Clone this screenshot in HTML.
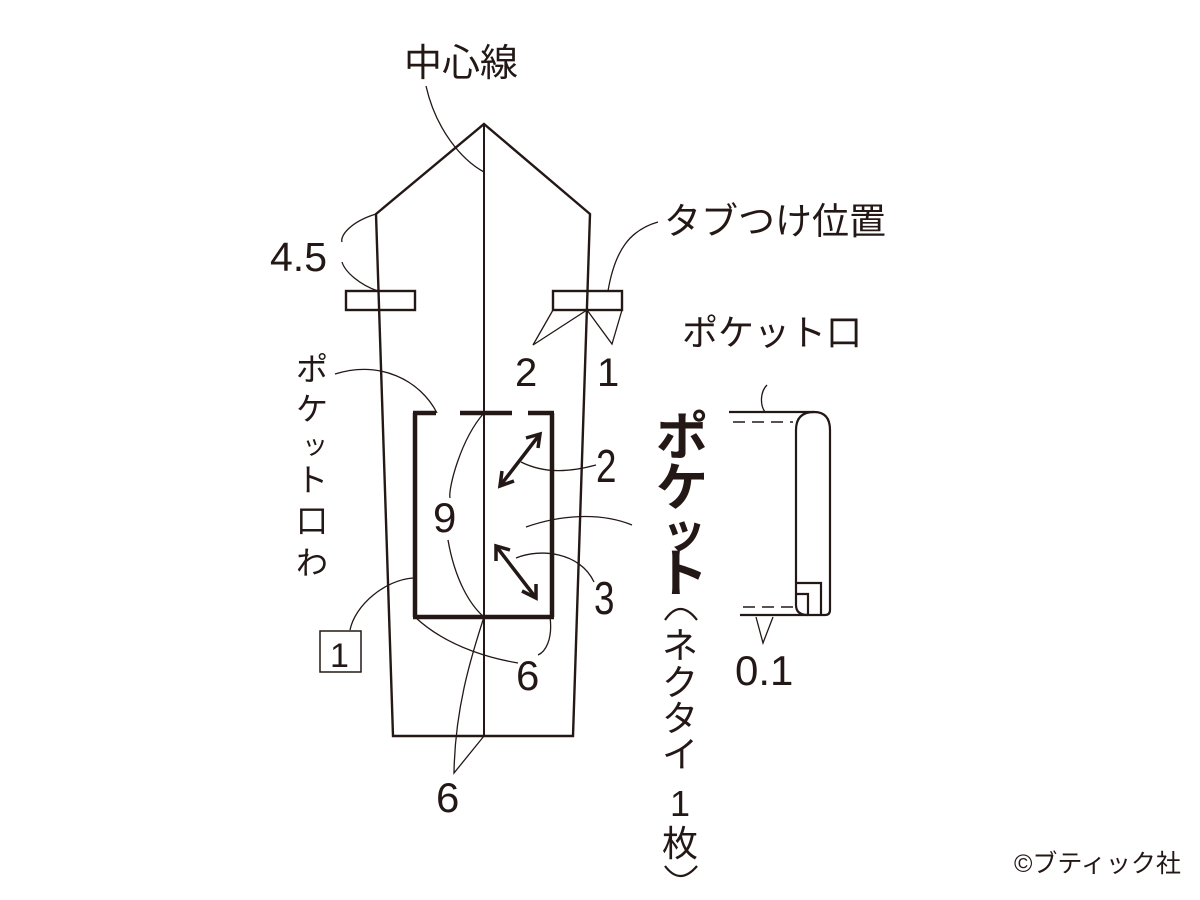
<!DOCTYPE html>
<html><head><meta charset="utf-8"><style>
html,body{margin:0;padding:0;background:#fff;}
svg{display:block}
text{font-family:"Liberation Sans","Noto Sans CJK JP",sans-serif;fill:#231815}
</style></head><body>
<svg width="1200" height="900" viewBox="0 0 1200 900" xmlns="http://www.w3.org/2000/svg">
<g stroke="#231815" fill="none" stroke-width="2">
<polygon points="484,124 590,214 573,736 393,736 376,214" stroke-width="2.4"/>
<line x1="484" y1="124" x2="484" y2="736"/>
<rect x="346" y="291" width="69" height="19" stroke-width="2.4"/>
<rect x="553" y="291" width="69" height="19" stroke-width="2.4"/>
<g stroke-width="4.5">
<line x1="415" y1="413" x2="415" y2="617"/>
<line x1="552" y1="413" x2="552" y2="617"/>
<line x1="413" y1="617" x2="554" y2="617"/>
<line x1="413" y1="413" x2="436" y2="413"/>
<line x1="460" y1="413" x2="512" y2="413"/>
<line x1="528" y1="413" x2="554" y2="413"/>
</g>
<g stroke-width="3.5">
<line x1="500" y1="486" x2="540" y2="434"/>
<polyline points="514,481 500,486 502,471"/>
<polyline points="526,438 540,434 538,448"/>
<line x1="496" y1="546" x2="536" y2="598"/>
<polyline points="496,561 496,546 510,550"/>
<polyline points="522,591 536,598 536,584"/>
</g>
<g stroke-width="1.3">
<path d="M426,86 C436,130 462,160 484,172"/>
<path d="M376,214 C350,222 340,236 342,242"/>
<path d="M342,262 C345,272 360,285 378,291"/>
<path d="M608,291 C615,250 630,230 658,222"/>
<polyline points="553,310 533,345 587,310 612,344 622,310"/>
<path d="M335,374 C380,360 420,380 437,413"/>
<path d="M484,413 C460,440 448,490 450,498"/>
<path d="M448,540 C455,580 470,605 484,617"/>
<path d="M521,462 C545,474 570,472 596,465"/>
<path d="M526,527 C560,515 600,512 632,525"/>
<path d="M516,558 C540,548 580,552 594,582"/>
<path d="M413,578 C385,580 355,605 350,630"/>
<path d="M415,617 C450,650 500,660 518,663"/>
<path d="M550,617 C553,640 545,652 538,655"/>
<path d="M484,617 C470,660 455,710 454,773 L484,736"/>
<path d="M767,385 C760,392 760,405 765,412"/>
<polyline points="756,617 763,643 773,617"/>
</g>
<g stroke-width="2.2">
<path d="M729,412 L814,412 Q830,412 830,430 L830,610 Q830,615 825,615 L740,615"/>
<path d="M808,615 Q796,615 796,605 L796,430 Q796,412 814,412"/>
<polyline points="797,583 821,583 821,615"/>
<polyline points="797,594 808,594 808,615"/>
</g>
<g stroke-width="1.5" stroke-dasharray="12,7">
<line x1="733" y1="422" x2="793" y2="422"/>
<line x1="743" y1="607" x2="795" y2="607"/>
</g>
<rect x="320" y="631" width="41" height="41" stroke-width="1.5"/>
<path d="M665,620 Q680,598 697,620" stroke-width="2.2"/>
<path d="M665,866 Q680,886 697,866" stroke-width="2.2"/>
</g>
<g font-size="40">
<text x="404" y="76" font-size="38">中心線</text>
<text x="664" y="234" font-size="37">タブつけ位置</text>
<text x="270" y="271" font-size="41">4.5</text>
<text x="515" y="386">2</text>
<text x="597" y="386">1</text>
<text x="682" y="345" font-size="36">ポケット口</text>
<text x="433" y="532" font-size="42">9</text>
<text x="596" y="482" transform="translate(596,0) scale(0.8,1) translate(-596,0)" font-size="46">2</text>
<text x="594" y="614" transform="translate(594,0) scale(0.8,1) translate(-594,0)" font-size="46">3</text>
<text x="330" y="667" font-size="34">1</text>
<text x="516" y="690" font-size="42">6</text>
<text x="436" y="812" font-size="42">6</text>
<text x="735" y="685" font-size="42">0.1</text>
</g>
<g font-size="32" text-anchor="middle">
<text x="312" y="380">ポ</text>
<text x="312" y="420">ケ</text>
<text x="315" y="454" font-size="26">ッ</text>
<text x="312" y="491">ト</text>
<text x="312" y="532">口</text>
<text x="312" y="574">わ</text>
</g>
<g font-size="52" font-weight="bold" text-anchor="middle">
<text x="682" y="455">ポ</text>
<text x="682" y="506">ケ</text>
<text x="684" y="547" font-size="44">ッ</text>
<text x="682" y="592">ト</text>
</g>
<g font-size="36" text-anchor="middle">
<text x="680" y="658">ネ</text>
<text x="680" y="695">ク</text>
<text x="680" y="731">タ</text>
<text x="680" y="767">イ</text>
<text x="680" y="816">1</text>
<text x="680" y="856">枚</text>
</g>
<text x="1014" y="872" font-size="25">©ブティック社</text>
</svg>
</body></html>
